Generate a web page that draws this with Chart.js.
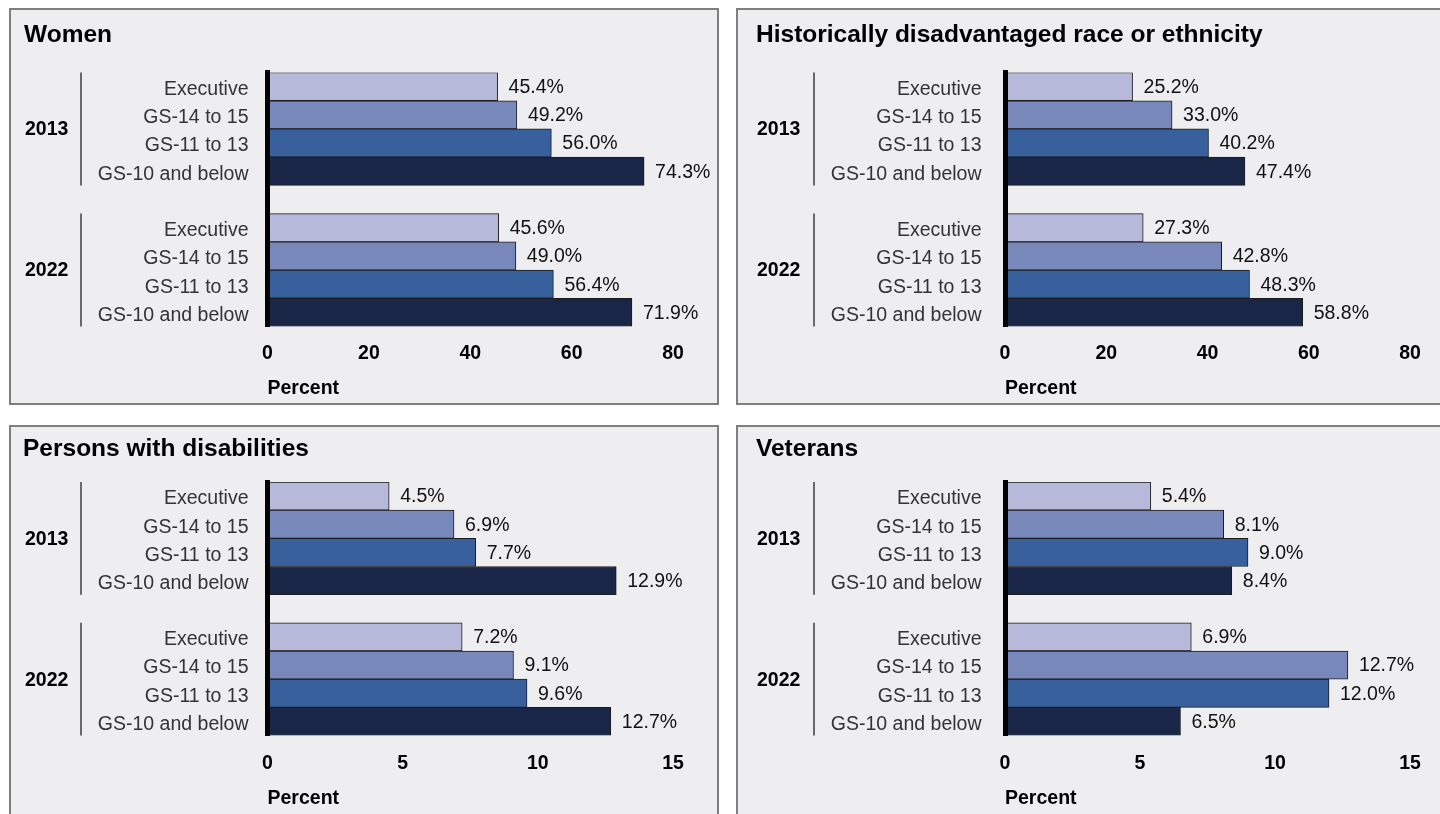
<!DOCTYPE html>
<html><head><meta charset="utf-8">
<script src="https://cdn.jsdelivr.net/npm/chart.js@4.4.1/dist/chart.umd.min.js"></script>
<style>
html,body{margin:0;padding:0;background:#fff;width:1440px;height:814px;overflow:hidden;}
.panel{position:absolute;box-sizing:border-box;border:2px solid #7f7f7f;background:#eeeef0;}
.panel canvas{position:absolute;left:0;top:0;}
</style></head><body>
<div id="p0" class="panel"><canvas id="c0"></canvas></div>
<div id="p1" class="panel"><canvas id="c1"></canvas></div>
<div id="p2" class="panel"><canvas id="c2"></canvas></div>
<div id="p3" class="panel"><canvas id="c3"></canvas></div>
<script>
// ---- data ----
const levels = ['Executive', 'GS-14 to 15', 'GS-11 to 13', 'GS-10 and below'];
const years = ['2013', '2022'];
const titles = ['Women', 'Historically disadvantaged race or ethnicity', 'Persons with disabilities', 'Veterans'];
const women2013 = [45.4, 49.2, 56.0, 74.3];
const women2022 = [45.6, 49.0, 56.4, 71.9];
const race2013 = [25.2, 33.0, 40.2, 47.4];
const race2022 = [27.3, 42.8, 48.3, 58.8];
const disab2013 = [4.5, 6.9, 7.7, 12.9];
const disab2022 = [7.2, 9.1, 9.6, 12.7];
const vets2013 = [5.4, 8.1, 9.0, 8.4];
const vets2022 = [6.9, 12.7, 12.0, 6.5];
const ticksLarge = [0, 20, 40, 60, 80];
const ticksSmall = [0, 5, 10, 15];
const axisTitle = 'Percent';

// ---- style ----
const levelColors = ['#b6b9da', '#7988bb', '#37609d', '#1a2648'];
const FONT = '"Liberation Sans", Arial, Helvetica, sans-serif';
const FS = 19.5, TFS = 24.5;
Chart.defaults.font.family = FONT;

// ---- geometry (page coordinates) ----
const geos = [
  {box:{left:9,top:8,width:710,height:397}, titleX:24, titleY:35, chartLeft:267.5, chartRight:673, chartTop:72.5, chartBottom:326.5, tickY:354, axTitleY:389, labelRight:248.5, lineX:81, yearX:25},
  {box:{left:736,top:8,width:712,height:397}, titleX:756, titleY:35, chartLeft:1005, chartRight:1410, chartTop:72.5, chartBottom:326.5, tickY:354, axTitleY:389, labelRight:981.5, lineX:814, yearX:757},
  {box:{left:9,top:425,width:710,height:397}, titleX:23, titleY:449.5, chartLeft:267.5, chartRight:673, chartTop:482, chartBottom:735.5, tickY:764, axTitleY:799, labelRight:248.5, lineX:81, yearX:25},
  {box:{left:736,top:425,width:712,height:397}, titleX:756, titleY:449.5, chartLeft:1005, chartRight:1410, chartTop:482, chartBottom:735.5, tickY:764, axTitleY:799, labelRight:981.5, lineX:814, yearX:757}
];

const groupPlugin = {
  id: 'groups',
  afterDraw(chart, args, opts) {
    const y = chart.scales.y, ctx = chart.ctx;
    const half = (y.getPixelForValue(1) - y.getPixelForValue(0)) / 2;
    opts.groups.forEach(g => {
      const top = y.getPixelForValue(g.from) - half;
      const bottom = y.getPixelForValue(g.to) + half;
      ctx.save();
      ctx.strokeStyle = '#6a6a6a'; ctx.lineWidth = 2;
      ctx.beginPath(); ctx.moveTo(opts.lineX, top); ctx.lineTo(opts.lineX, bottom); ctx.stroke();
      ctx.fillStyle = '#000'; ctx.font = 'bold ' + FS + 'px ' + FONT;
      ctx.textBaseline = 'middle'; ctx.textAlign = 'left';
      ctx.fillText(g.label, opts.yearX, (top + bottom) / 2 + 1);
      ctx.restore();
    });
  }
};
const valuePlugin = {
  id: 'values',
  afterDatasetsDraw(chart) {
    const ctx = chart.ctx, ds = chart.data.datasets[0];
    const meta = chart.getDatasetMeta(0);
    ctx.save();
    ctx.fillStyle = '#111'; ctx.font = FS + 'px ' + FONT;
    ctx.textBaseline = 'middle'; ctx.textAlign = 'left';
    meta.data.forEach((bar, i) => {
      const v = ds.data[i];
      if (v === null || v === undefined) return;
      ctx.fillText(v.toFixed(1) + '%', bar.x + 11, bar.y + 1);
    });
    ctx.restore();
  }
};

function makeChart(i, title, v2013, v2022, tickVals) {
  const g = geos[i];
  const p = document.getElementById('p' + i);
  p.style.left = g.box.left + 'px'; p.style.top = g.box.top + 'px';
  p.style.width = g.box.width + 'px'; p.style.height = g.box.height + 'px';
  const cx = g.box.left + 2, cy = g.box.top + 2;
  const W = g.box.width - 4, H = g.box.height - 4;
  const cv = document.getElementById('c' + i);
  cv.width = W; cv.height = H; cv.style.width = W + 'px'; cv.style.height = H + 'px';

  const chartLeft = g.chartLeft - cx, chartRight = g.chartRight - cx;
  const chartTop = g.chartTop - cy, chartBottom = g.chartBottom - cy;
  const padLeft = g.titleX - cx;
  const LH = FS * 1.2, TLH = TFS * 1.2;
  const tCenter = g.titleY - cy;
  const tPadTop = tCenter - TLH / 2;
  const tPadBottom = chartTop - tPadTop - TLH;
  const tickPad = (g.tickY - cy) - chartBottom - LH / 2;
  const axPadBottom = H - (g.axTitleY - cy) - LH / 2;
  const axHeight = H - chartBottom;
  const axPadTop = axHeight - tickPad - LH - LH - axPadBottom;

  const labels = [...levels, '', ...levels];
  const data = [...v2013, null, ...v2022];
  const colors = [...levelColors, 'rgba(0,0,0,0)', ...levelColors];

  return new Chart(cv, {
    type: 'bar',
    data: { labels, datasets: [{ data, backgroundColor: colors, borderColor: '#1c1c1c', borderWidth: 1,
      barPercentage: 1, categoryPercentage: 1 }] },
    options: {
      indexAxis: 'y', responsive: false, animation: false,
      layout: { padding: { left: padLeft, right: W - chartRight, top: 0, bottom: 0 } },
      plugins: {
        legend: { display: false }, tooltip: { enabled: false },
        title: { display: true, text: title, align: 'start', color: '#000',
          font: { size: TFS, weight: 'bold', family: FONT, lineHeight: 1.2 },
          padding: { top: tPadTop, bottom: tPadBottom } },
        groups: { lineX: g.lineX - cx, yearX: g.yearX - cx,
          groups: [{ label: years[0], from: 0, to: 3 }, { label: years[1], from: 5, to: 8 }] }
      },
      scales: {
        y: {
          grid: { display: false, drawTicks: false },
          border: { display: true, color: '#000', width: 5, z: 1 },
          ticks: { autoSkip: false, color: '#333', padding: chartLeft - (g.labelRight - cx),
            font: { size: FS, family: FONT, lineHeight: 1.2 }, labelOffset: 3 },
          afterFit(s) { s.width = chartLeft - padLeft; }
        },
        x: {
          min: tickVals[0], max: tickVals[tickVals.length - 1],
          grid: { display: false, drawTicks: false },
          border: { display: false },
          afterBuildTicks(s) { s.ticks = tickVals.map(v => ({ value: v })); },
          ticks: { color: '#000', padding: tickPad, font: { size: FS, weight: 'bold', family: FONT, lineHeight: 1.2 } },
          title: { display: true, text: axisTitle, align: 'start', color: '#000',
            font: { size: FS, weight: 'bold', family: FONT, lineHeight: 1.2 },
            padding: { top: axPadTop, bottom: axPadBottom } },
          afterFit(s) { s.height = axHeight; }
        }
      }
    },
    plugins: [groupPlugin, valuePlugin]
  });
}

makeChart(0, titles[0], women2013, women2022, ticksLarge);
makeChart(1, titles[1], race2013, race2022, ticksLarge);
makeChart(2, titles[2], disab2013, disab2022, ticksSmall);
makeChart(3, titles[3], vets2013, vets2022, ticksSmall);
</script>
</body></html>
